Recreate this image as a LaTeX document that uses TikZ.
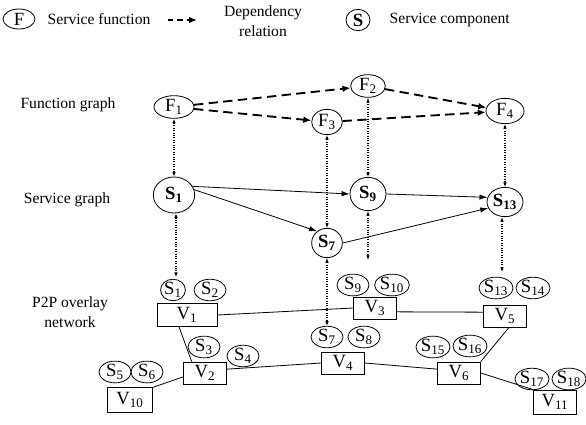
\documentclass[tikz,border=0pt]{standalone}
\usepackage{fontspec}
\setmainfont{Liberation Serif}
\usetikzlibrary{shapes.geometric,arrows.meta}
\newcommand{\sbs}[1]{\textsubscript{#1}}
\begin{document}
\begin{tikzpicture}[x=0.75pt,y=-0.75pt,
  every node/.style={font=\fontsize{11.7}{15.5}\selectfont},
  lbl/.style={font=\fontsize{14}{16}\selectfont},
  ell/.style={ellipse,draw,inner sep=0pt,line width=0.6pt,lbl},
  sml/.style={ell,minimum width=24pt,minimum height=14.5pt},
  box/.style={rectangle,draw,inner sep=0pt,line width=0.6pt,minimum width=32pt,minimum height=16.5pt,lbl},
  dep/.style={line width=1.4pt,dash pattern=on 7pt off 4pt,-{Latex[length=6pt,width=5pt]}},
  sol/.style={line width=0.6pt,-{Latex[length=6pt,width=4pt]}},
  dotarr/.style={line width=0.8pt,dash pattern=on 0.7pt off 1.1pt,{Latex[length=3.5pt,width=2.8pt]}-{Latex[length=3.5pt,width=2.8pt]}},
  link/.style={line width=0.6pt}]
\useasboundingbox (0,0) rectangle (586,425);

% legend
\node[ell,minimum width=24pt,minimum height=15pt] (lf) at (19,19) {F};
\node[anchor=west] (lft) at (43,19) {Service function};
\coordinate (la1) at (168,20);
\coordinate (la2) at (197,20);
\draw[dep,dash pattern=on 4pt off 3pt] (la1) -- (la2);
\node[align=center] (ldr) at (263,21) {Dependency\\relation};
\node[ell,minimum width=18pt,minimum height=16pt] (ls) at (358,20) {\textbf{S}};
\node[anchor=west] (lst) at (385,20) {Service component};

% layer labels
\node (fg) at (68,105) {Function graph};
\node (sg) at (67,200) {Service graph};
\node[align=center] (pn) at (70,312) {P2P overlay\\network};

% function graph
\node[ell,minimum width=30pt,minimum height=17pt] (F1) at (174,107) {F\sbs{1}};
\node[ell,minimum width=26pt,minimum height=17pt] (F2) at (368,86) {F\sbs{2}};
\node[ell,minimum width=23pt,minimum height=19pt] (F3) at (327,122) {F\sbs{3}};
\node[ell,minimum width=28.5pt,minimum height=19pt] (F4) at (505,111) {F\sbs{4}};

\draw[dep] (F1) -- (F2);
\draw[dep] (F1) -- (F3);
\draw[dep] (F2) -- (F4);
\draw[dep] (F3) -- (F4);

% service graph
\node[ell,minimum width=31pt,minimum height=27pt] (S1) at (174,195) {\textbf{S\sbs{1}}};
\node[ell,minimum width=27pt,minimum height=25pt] (S9) at (368,194) {\textbf{S\sbs{9}}};
\node[ell,minimum width=23pt,minimum height=22pt] (S7) at (327,243) {\textbf{S\sbs{7}}};
\node[ell,minimum width=27pt,minimum height=22pt] (S13) at (505,202) {\textbf{S\sbs{13}}};

\draw[sol] (S1.25) -- (S9.west);
\draw[sol] (S1.15) -- (S7.130);
\draw[sol] (S9.east) -- (S13.165);
\draw[sol] (S7.east) -- (S13.200);

% P2P overlay network
\node[box,minimum width=45pt,minimum height=17pt] (V1) at (187,315) {V\sbs{1}};
\node[box] (V2) at (205,373) {V\sbs{2}};
\node[box] (V3) at (375,308) {V\sbs{3}};
\node[box] (V4) at (343,363) {V\sbs{4}};
\node[box] (V5) at (505,316) {V\sbs{5}};
\node[box] (V6) at (459,373) {V\sbs{6}};
\node[box,minimum width=34pt,minimum height=18.5pt] (V10) at (130,400) {V\sbs{10}};
\node[box,minimum width=32pt,minimum height=18pt] (V11) at (555,402) {V\sbs{11}};

\node[sml,minimum width=18pt] (p1) at (173,290) {S\sbs{1}};
\node[sml] (p2) at (210,290) {S\sbs{2}};
\node[sml] (p3) at (204,347) {S\sbs{3}};
\node[sml] (p4) at (243,356) {S\sbs{4}};
\node[sml] (p5) at (115,372) {S\sbs{5}};
\node[sml] (p6) at (147,372) {S\sbs{6}};
\node[sml] (p7) at (327,337) {S\sbs{7}};
\node[sml] (p8) at (364,337) {S\sbs{8}};
\node[sml] (p9) at (353,285) {S\sbs{9}};
\node[sml,minimum width=26pt] (p10) at (392,285) {S\sbs{10}};
\node[sml] (p13) at (496,288) {S\sbs{13}};
\node[sml] (p14) at (533,288) {S\sbs{14}};
\node[sml] (p15) at (433,347) {S\sbs{15}};
\node[sml] (p16) at (470,346) {S\sbs{16}};
\node[sml] (p17) at (532,379) {S\sbs{17}};
\node[sml] (p18) at (569,379) {S\sbs{18}};

\draw[link] (V1.east) -- (V3.west);
\draw[link] (V3.-10) -- (V5.170);
\draw[link] ([xshift=-6pt]V1.south) -- ([xshift=-10pt]V2.north);
\draw[link] (V2.10) -- (V4.west);
\draw[link] (V2.190) -- (V10.north east);
\draw[link] (V4.east) -- (V6.170);
\draw[link] (V6.north east) -- ([xshift=3pt]V5.south);
\draw[link] (V6.east) -- (V11.north west);

% mapping (dotted)
\coordinate (e1) at (176,277);
\coordinate (e9) at (368,260);
\coordinate (e13) at (502,272);
\draw[dotarr] (F1.south) -- (S1.north);
\draw[dotarr] (S1.south -| e1) -- (e1);
\draw[dotarr] (F3.south) -- (S7.north);
\draw[dotarr] (S7.south) -- (p7.north);
\draw[dotarr] (F2.south) -- (S9.north);
\draw[dotarr] (S9.south) -- (e9);
\draw[dotarr] (F4.south) -- (S13.north);
\draw[dotarr] (S13.south -| e13) -- (e13);
\end{tikzpicture}
\end{document}
